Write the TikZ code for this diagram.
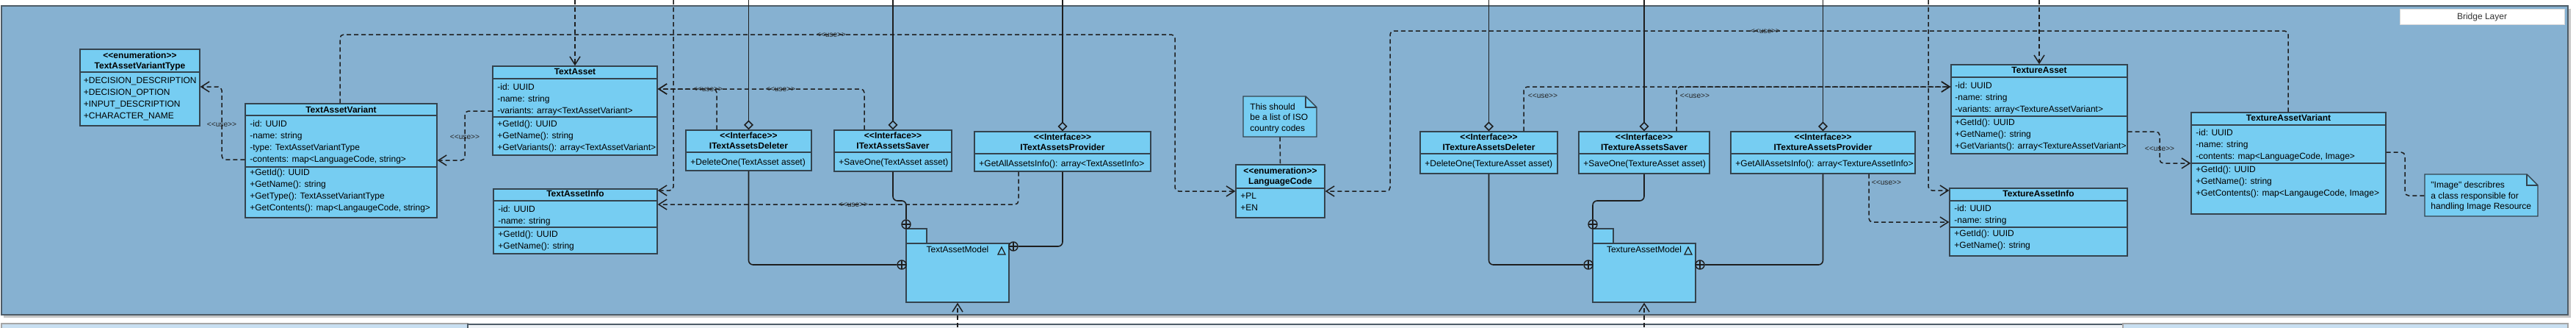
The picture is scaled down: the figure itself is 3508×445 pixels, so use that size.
\documentclass[tikz,border=0pt]{standalone}
\usepackage{fontspec}
\newfontfamily\umlfont{Liberation Sans}
\usetikzlibrary{arrows.meta,fit,calc}
\definecolor{framefill}{HTML}{86B1D1}
\definecolor{classfill}{HTML}{76CDF2}
\definecolor{classdraw}{HTML}{34434E}
\definecolor{linecol}{HTML}{1E1E1E}
\definecolor{framedraw}{HTML}{4E5C67}
\definecolor{stripfill}{HTML}{C8DFF1}
\definecolor{stripmid}{HTML}{EDF1F5}
\newcommand\umlsep[2]{\draw[classdraw, line width=0.7pt] (#1.west |- 0,#2) -- (#1.east |- 0,#2);}
\newcommand\umlt[4]{\node[txt] (#1) at (#2,#3) {#4};}
\newcommand\umlh[4]{\node[hdr] (#1) at (#2,#3) {#4};}
\newcommand\umlnote[5]{%
  \node[inner sep=0pt, fit={(#2,#3)(#4,#5)}] (#1) {};
  \filldraw[fill=classfill, draw=classdraw, line width=0.7pt] (#2,#3) -- ({#4-15},#3) -- (#4,{#3+15}) -- (#4,#5) -- (#2,#5) -- cycle;
  \draw[classdraw, line width=0.6pt] ({#4-15},#3) -- ({#4-15},{#3+15}) -- (#4,{#3+15});}
\begin{document}
\begin{tikzpicture}[x=0.5pt,y=-0.5pt,
  every node/.style={font=\umlfont\fontsize{6}{7.2}\selectfont},
  box/.style={draw=classdraw, fill=classfill, line width=0.7pt, inner sep=0pt},
  txt/.style={inner sep=0pt, text height=4.3pt, text depth=0pt, anchor=west, text=black},
  hdr/.style={txt, anchor=center, font=\umlfont\bfseries\fontsize{6}{7.2}\selectfont},
  uselbl/.style={inner sep=0pt, text height=3.4pt, text depth=0pt, text=black!85, font=\umlfont\fontsize{5.1}{6}\selectfont},
  dep/.style={draw=linecol, line width=0.75pt, dash pattern=on 3pt off 2pt, rounded corners=2.5pt, -{Straight Barb[length=5.5pt,width=7pt]}},
  dashl/.style={draw=linecol, line width=0.75pt, dash pattern=on 3pt off 2pt, rounded corners=2.5pt},
  agg/.style={draw=linecol, line width=0.8pt, -{Diamond[length=6.5pt,width=6.5pt,fill=framefill]}},
  solidc/.style={draw=linecol, line width=0.8pt, rounded corners=3pt},
  oplus/.style={circle, draw=linecol, line width=0.7pt, minimum size=6pt, inner sep=0pt,
    path picture={\draw[linecol, line width=0.6pt] (path picture bounding box.north) -- (path picture bounding box.south) (path picture bounding box.west) -- (path picture bounding box.east);}}
]
\useasboundingbox (0,0) rectangle (3508,445);
\fill[white] (0,0) rectangle (3508,445);
% frame and strips
\fill[gray!45] (5,12) rectangle (3501,432);
\node[fit={(2,8)(3497,428)}, fill=framefill, draw=framedraw, line width=0.9pt, inner sep=0pt] (frame) {};
\node[fit={(2,440)(637,470)}, fill=stripfill, draw=gray!70, line width=0.6pt, inner sep=0pt] (stripl) {};
\node[fit={(637,441)(2891,470)}, fill=stripmid, draw=framedraw, line width=1.1pt, inner sep=0pt] (stripm) {};
\node[fit={(2891,440)(3497,470)}, fill=stripfill, draw=gray!70, line width=0.6pt, inner sep=0pt] (stripr) {};
\node[fit={(3268,12)(3492,33)}, fill=white, draw=gray!30, line width=0.5pt, inner sep=0pt] (bl) {};
\node[hdr, font=\umlfont\fontsize{6}{7.2}\selectfont, text=black!80] (blt) at (bl.center) {Bridge Layer};

% ---------- classes ----------
\node[box, fit={(109,67)(272,171)}] (tavt) {};
\umlsep{tavt}{98}
\node[box, fit={(334,141)(595,296)}] (tav) {};
\umlsep{tav}{157}\umlsep{tav}{227}
\node[box, fit={(671,90)(895,211)}] (ta) {};
\umlsep{ta}{107}\umlsep{ta}{159}
\node[box, fit={(672,257)(895,345)}] (tai) {};
\umlsep{tai}{273}\umlsep{tai}{309}
\node[box, fit={(934,177)(1105,232)}] (del) {};
\umlsep{del}{207}
\node[box, fit={(1136,177)(1296,233)}] (sav) {};
\umlsep{sav}{207}
\node[box, fit={(1327,179)(1567,233)}] (prov) {};
\umlsep{prov}{209}
\umlnote{note1}{1693}{131}{1793}{186}
\node[box, fit={(1683,224)(1804,296)}] (lc) {};
\umlsep{lc}{256}
\node[box, fit={(1934,179)(2121,236)}] (tdel) {};
\umlsep{tdel}{209}
\node[box, fit={(2150,179)(2328,236)}] (tsav) {};
\umlsep{tsav}{209}
\node[box, fit={(2357,179)(2608,236)}] (tprov) {};
\umlsep{tprov}{209}
\node[box, fit={(2657,88)(2897,209)}] (tas) {};
\umlsep{tas}{105}\umlsep{tas}{158}
\node[box, fit={(2655,256)(2897,348)}] (tai2) {};
\umlsep{tai2}{273}\umlsep{tai2}{309}
\node[box, fit={(2984,153)(3249,291)}] (tav2) {};
\umlsep{tav2}{170}\umlsep{tav2}{222}
\umlnote{note2}{3302}{237}{3456}{294}
% packages
\node[box, fit={(1234,331)(1374,411)}] (pkg1) {};
\node[box, fit={(1234,311)(1262,331)}] (tab1) {};
\node[box, fit={(2169,331)(2309,411)}] (pkg2) {};
\node[box, fit={(2169,311)(2197,331)}] (tab2) {};
\node[txt, anchor=center] (pkg1l) at (1304,339) {TextAssetModel};
\node[txt, anchor=center] (pkg2l) at (2239,339) {TextureAssetModel};
\draw[linecol, line width=0.6pt] (1359,346) -- (1369,346) -- (1364,336) -- cycle;
\draw[linecol, line width=0.6pt] (2294,346) -- (2304,346) -- (2299,336) -- cycle;
\node[oplus] (o1s) at (1234,305) {};
\node[oplus] (o1d) at (1228,360) {};
\node[oplus] (o1p) at (1380,335) {};
\node[oplus] (o2s) at (2169,305) {};
\node[oplus] (o2d) at (2163,360) {};
\node[oplus] (o2p) at (2315,360) {};

% ---------- outside ends ----------
\coordinate (e1) at (783,0);
\coordinate (e2) at (917,0);
\coordinate (e3) at (1019.5,0);
\coordinate (e4) at (1216,0);
\coordinate (e5) at (1447,0);
\coordinate (e6) at (2027.5,0);
\coordinate (e7) at (2239,0);
\coordinate (e8) at (2482.5,0);
\coordinate (e9) at (2626,0);
\coordinate (e10) at (2777,0);
\coordinate (e11) at (1304,445);
\coordinate (e12) at (2239,445);

% ---------- connectors ----------
\draw[dep] (e1) -- (ta.north);
\draw[dep] (e2) |- (tai.east |- 0,259);
\draw[agg] (e3) -- (del.north);
\draw[agg] (e4) -- (sav.north);
\draw[agg] (e5) -- (prov.north);
\draw[agg] (e6) -- (tdel.north);
\draw[agg] (e7) -- (tsav.north);
\draw[agg] (e8) -- (tprov.north);
\draw[dep] (e9) |- (tai2.west |- 0,259);
\draw[dep] (e10) -- (tas.north);
\draw[dep] (e11) -- (pkg1.south);
\draw[dep] (e12) -- (pkg2.south);

\draw[solidc] (del.south) |- (o1d.west);
\draw[solidc] (sav.south) |- (1234,273) -- (o1s.north);
\draw[solidc] (prov.south) |- (o1p.east);
\draw[solidc] (tdel.south) |- (o2d.west);
\draw[solidc] (tsav.south) |- (2169,273) -- (o2s.north);
\draw[solidc] (tprov.south) |- (o2p.east);

\draw[dep] (tav.west |- 0,217) -| (302,118) -- (tavt.east |- 0,118);
\draw[dep] (ta.west |- 0,151) -| (633,218) -- (tav.east |- 0,218);
\draw[dep] (976,0 |- del.north) |- (ta.east |- 0,121);
\draw[dep] (1177,0 |- sav.north) |- (ta.east |- 0,121);
\draw[dep] (1387,0 |- prov.south) |- (tai.east |- 0,278);
\draw[dep] (463,0 |- tav.north) |- (1600,47) |- (lc.west |- 0,260);
\draw[dashl] (note1.south) -- (lc.north);
\draw[dep] (3116,0 |- tav2.north) |- (1893,42) |- (lc.east |- 0,260);
\draw[dep] (2075,0 |- tdel.north) |- (tas.west |- 0,118);
\draw[dep] (2283,0 |- tsav.north) |- (tas.west |- 0,118);
\draw[dep] (tas.east |- 0,179) -| (2941,222) -- (tav2.west |- 0,222);
\draw[dep] (2545,0 |- tprov.south) |- (tai2.west |- 0,302);
\draw[dashl] (tav2.east |- 0,207) -| (3275,266) -- (note2.west |- 0,266);

\node[uselbl] (u1) at (302,169) {<<use>>};
\node[uselbl] (u2) at (633,186) {<<use>>};
\node[uselbl] (u3) at (964,121) {<<use>>};
\node[uselbl] (u4) at (1063,121) {<<use>>};
\node[uselbl] (u5) at (1162,278) {<<use>>};
\node[uselbl] (u6) at (1132,47) {<<use>>};
\node[uselbl] (u7) at (2404,42) {<<use>>};
\node[uselbl] (u8) at (2101,130) {<<use>>};
\node[uselbl] (u9) at (2308,130) {<<use>>};
\node[uselbl] (u10) at (2941,202) {<<use>>};
\node[uselbl] (u11) at (2569,248) {<<use>>};

% ---------- texts ----------
\umlh{tavt-h1}{190.5}{75}{<<enumeration>>}
\umlh{tavt-h2}{190.5}{89}{TextAssetVariantType}
\umlt{tavt-1}{113.5}{109}{+DECISION\_DESCRIPTION}
\umlt{tavt-2}{113.5}{125}{+DECISION\_OPTION}
\umlt{tavt-3}{113.5}{141}{+INPUT\_DESCRIPTION}
\umlt{tavt-4}{113.5}{157}{+CHARACTER\_NAME}

\umlh{tav-h}{464.5}{149}{TextAssetVariant}
\umlt{tav-1}{340}{168}{-id: UUID}
\umlt{tav-2}{340}{184}{-name: string}
\umlt{tav-3}{340}{200}{-type: TextAssetVariantType}
\umlt{tav-4}{340}{216}{-contents: map<LanguageCode, string>}
\umlt{tav-5}{340}{234}{+GetId(): UUID}
\umlt{tav-6}{340}{250}{+GetName(): string}
\umlt{tav-7}{340}{266}{+GetType(): TextAssetVariantType}
\umlt{tav-8}{340}{282}{+GetContents(): map<LangaugeCode, string>}

\umlh{ta-h}{783}{97}{TextAsset}
\umlt{ta-1}{677}{118}{-id: UUID}
\umlt{ta-2}{677}{134}{-name: string}
\umlt{ta-3}{677}{150}{-variants: array<TextAssetVariant>}
\umlt{ta-4}{677}{168}{+GetId(): UUID}
\umlt{ta-5}{677}{184}{+GetName(): string}
\umlt{ta-6}{677}{200}{+GetVariants(): array<TextAssetVariant>}

\umlh{tai-h}{783.5}{263}{TextAssetInfo}
\umlt{tai-1}{678}{284}{-id: UUID}
\umlt{tai-2}{678}{300}{-name: string}
\umlt{tai-3}{678}{318}{+GetId(): UUID}
\umlt{tai-4}{678}{334}{+GetName(): string}

\umlh{del-h1}{1019.5}{184}{<<Interface>>}
\umlh{del-h2}{1019.5}{198}{ITextAssetsDeleter}
\umlt{del-1}{940}{220}{+DeleteOne(TextAsset asset)}

\umlh{sav-h1}{1216}{184}{<<Interface>>}
\umlh{sav-h2}{1216}{198}{ITextAssetsSaver}
\umlt{sav-1}{1142}{220}{+SaveOne(TextAsset asset)}

\umlh{prov-h1}{1447}{186}{<<Interface>>}
\umlh{prov-h2}{1447}{200}{ITextAssetsProvider}
\umlt{prov-1}{1333}{222}{+GetAllAssetsInfo(): array<TextAssetInfo>}

\umlt{n1-1}{1702}{145}{This should}
\umlt{n1-2}{1702}{159}{be a list of ISO}
\umlt{n1-3}{1702}{174}{country codes}

\umlh{lc-h1}{1743.5}{232}{<<enumeration>>}
\umlh{lc-h2}{1743.5}{246}{LanguageCode}
\umlt{lc-1}{1689}{266}{+PL}
\umlt{lc-2}{1689}{282}{+EN}

\umlh{tdel-h1}{2027.5}{186}{<<Interface>>}
\umlh{tdel-h2}{2027.5}{200}{ITextureAssetsDeleter}
\umlt{tdel-1}{1940}{222}{+DeleteOne(TextureAsset asset)}

\umlh{tsav-h1}{2239}{186}{<<Interface>>}
\umlh{tsav-h2}{2239}{200}{ITextureAssetsSaver}
\umlt{tsav-1}{2156}{222}{+SaveOne(TextureAsset asset)}

\umlh{tprov-h1}{2482.5}{186}{<<Interface>>}
\umlh{tprov-h2}{2482.5}{200}{ITextureAssetsProvider}
\umlt{tprov-1}{2363}{222}{+GetAllAssetsInfo(): array<TextureAssetInfo>}

\umlh{tas-h}{2777}{95}{TextureAsset}
\umlt{tas-1}{2662}{116}{-id: UUID}
\umlt{tas-2}{2662}{132}{-name: string}
\umlt{tas-3}{2662}{148}{-variants: array<TextureAssetVariant>}
\umlt{tas-4}{2662}{166}{+GetId(): UUID}
\umlt{tas-5}{2662}{182}{+GetName(): string}
\umlt{tas-6}{2662}{198}{+GetVariants(): array<TextureAssetVariant>}

\umlh{tai2-h}{2776}{263}{TextureAssetInfo}
\umlt{tai2-1}{2661}{283}{-id: UUID}
\umlt{tai2-2}{2661}{299}{-name: string}
\umlt{tai2-3}{2661}{317}{+GetId(): UUID}
\umlt{tai2-4}{2661}{333}{+GetName(): string}

\umlh{tav2-h}{3116.5}{160}{TextureAssetVariant}
\umlt{tav2-1}{2990}{180}{-id: UUID}
\umlt{tav2-2}{2990}{196}{-name: string}
\umlt{tav2-3}{2990}{212}{-contents: map<LanguageCode, Image>}
\umlt{tav2-4}{2990}{230}{+GetId(): UUID}
\umlt{tav2-5}{2990}{246}{+GetName(): string}
\umlt{tav2-6}{2990}{262}{+GetContents(): map<LangaugeCode, Image>}

\umlt{n2-1}{3310}{251}{"Image" describres}
\umlt{n2-2}{3310}{266}{a class responsible for}
\umlt{n2-3}{3310}{280}{handling Image Resource}
\end{tikzpicture}
\end{document}
